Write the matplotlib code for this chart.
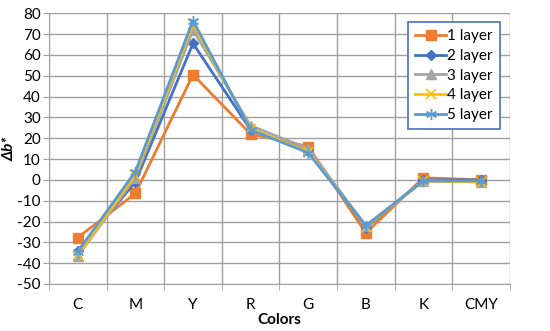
import numpy as np
import matplotlib.pyplot as plt
import matplotlib as mpl

mpl.rcParams["font.family"] = ["Lato", "DejaVu Sans"]
mpl.rcParams["axes.unicode_minus"] = False

colors_cat = ["C", "M", "Y", "R", "G", "B", "K", "CMY"]
layer1 = [-27.7, -6.5, 50.5, 22.0, 16.0, -25.5, 1.0, 0.0]
layer2 = [-34.0, -1.0, 65.5, 24.0, 14.0, -23.0, 0.0, 0.0]
layer3 = [-36.5, 1.0, 72.0, 26.0, 15.0, -22.0, -0.5, -1.0]
layer4 = [-36.0, 2.5, 75.0, 24.5, 13.5, -22.5, -0.5, -1.0]
layer5 = [-34.5, 4.0, 76.5, 24.0, 13.0, -22.0, -0.5, -0.5]
series_names = ["1 layer", "2 layer", "3 layer", "4 layer", "5 layer"]

fig = plt.figure(figsize=(5.5, 3.31), dpi=100)
ax = fig.add_axes([0.089, 0.142, 0.838, 0.818])

x = np.arange(len(colors_cat))
styles = [
    ("#ED7D31", "s", 7, None),
    ("#4472C4", "D", 5, None),
    ("#A5A5A5", "^", 7, None),
    ("#FFC000", "x", 7, 1.2),
    ("#5B9BD5", (6, 2, 0), 8, 1.0),
]
for vals, name, (c, m, ms, mew) in zip([layer1, layer2, layer3, layer4, layer5], series_names, styles):
    kw = {}
    if mew is not None:
        kw["markeredgewidth"] = mew
    ax.plot(x, vals, color=c, marker=m, markersize=ms, linewidth=2, label=name, **kw)

ax.set_xlim(-0.5, len(colors_cat) - 0.5)
ax.set_ylim(-50, 80)
ax.set_yticks(np.arange(-50, 81, 10))
ax.set_xticks(x)
ax.set_xticklabels(colors_cat)
ax.set_xticks(np.arange(-0.5, len(colors_cat), 1), minor=True)
ax.tick_params(axis="x", which="major", length=0, pad=10)
ax.tick_params(axis="x", which="minor", length=4, color="#A0A0A0")
ax.tick_params(axis="y", length=4, color="#A0A0A0", pad=2)
ax.tick_params(labelsize=11)
ax.grid(True, axis="y", color="#A0A0A0", linewidth=1)
ax.grid(True, axis="x", which="minor", color="#A0A0A0", linewidth=1)
ax.set_axisbelow(True)
for side in ["top", "right"]:
    ax.spines[side].set_visible(False)
ax.spines["left"].set_color("#A0A0A0")
ax.spines["bottom"].set_color("#A0A0A0")

ax.set_xlabel("Colors", fontweight="bold", fontsize=11, labelpad=1)
ax.set_ylabel("Δb*", fontweight="bold", fontstyle="italic", fontsize=11, labelpad=1)
ax.yaxis.set_label_coords(-0.07, 0.5)

leg = ax.legend(loc="upper right", bbox_to_anchor=(0.978, 0.967), fontsize=11,
                frameon=True, fancybox=False, handlelength=2.0, handletextpad=0.1,
                borderpad=0.45, labelspacing=0.38, borderaxespad=0)
leg.get_frame().set_edgecolor("#4472C4")
leg.get_frame().set_linewidth(1.2)
leg.get_frame().set_alpha(1)

fig.savefig("out.png", dpi=100)
